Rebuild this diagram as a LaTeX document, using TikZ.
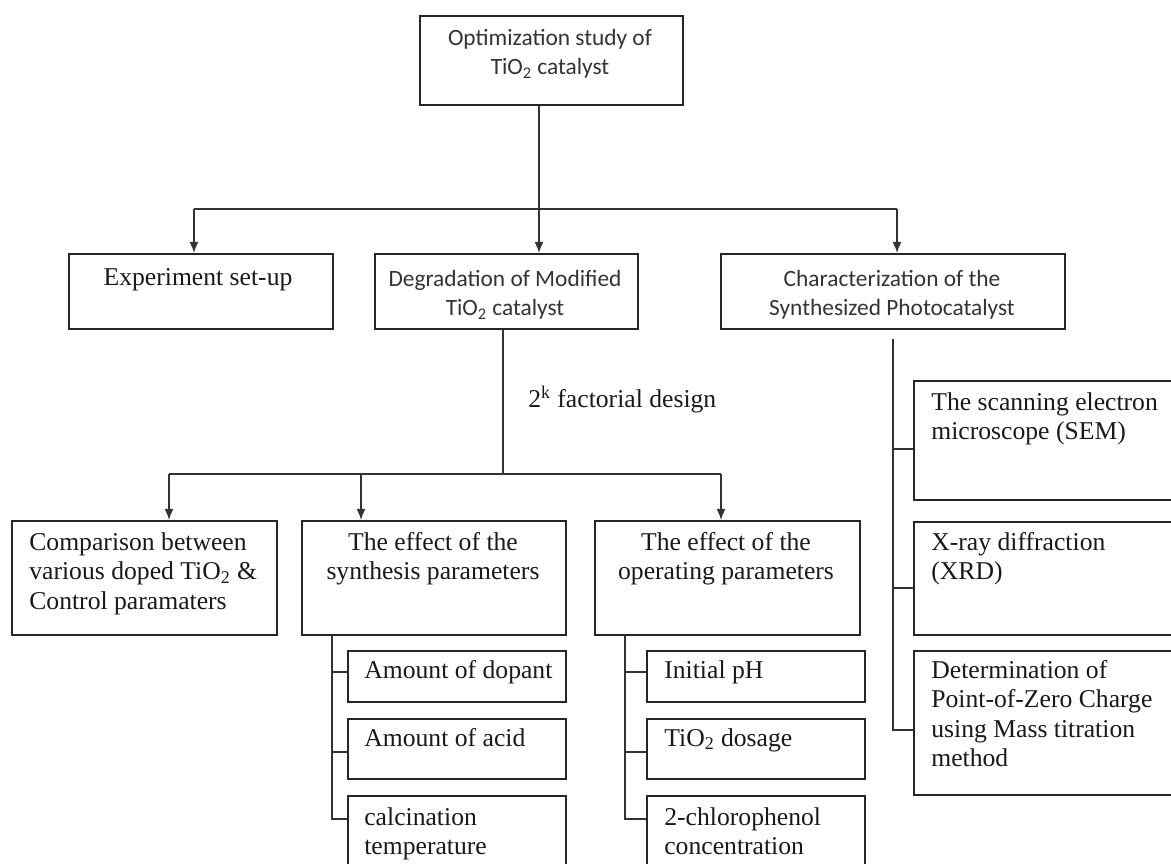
\documentclass[tikz,border=0pt]{standalone}
\usepackage{fontspec}
\setmainfont{Liberation Serif}
\newfontfamily\sanscal{Carlito}
\usepackage{tikz}
\usetikzlibrary{arrows.meta,calc}

\begin{document}
\begin{tikzpicture}[
  x=0.02cm, y=-0.02cm,
  >=Latex,
  panel/.style={draw=black!85, line width=1pt, anchor=north west, inner sep=0pt},
  sized/.style 2 args={minimum width=#1*0.02cm, minimum height=#2*0.02cm},
  serif/.style={font=\fontsize{14.6}{16.8}\selectfont, text=black!90, inner sep=0pt},
  sans/.style={font=\sanscal\fontsize{13.3}{16.5}\selectfont, text=black!80, inner sep=0pt, align=center, anchor=north},
  link/.style={draw=black!80, line width=.9pt},
  feed/.style={link, -{Latex[length=2.2mm, width=1.8mm]}}
]
  \useasboundingbox (0,0) rectangle (1171,864);
  \clip (0,0) rectangle (1171,864);

  % Boxes of the three levels and the two lists below them.
  \node[panel, sized={263}{89}] (top) at (419,15) {};
  \node[panel, sized={264}{75}] (exp) at (68,253) {};
  \node[panel, sized={263}{75}] (deg) at (374,253) {};
  \node[panel, sized={344}{75}] (chr) at (720,253) {};
  \node[panel, sized={265}{114}] (cmp) at (11,520) {};
  \node[panel, sized={264}{114}] (syn) at (301,520) {};
  \node[panel, sized={265}{114}] (opr) at (594,520) {};
  \node[panel, sized={218}{51}] (dop) at (347,650) {};
  \node[panel, sized={218}{60}] (acd) at (347,718) {};
  \node[panel, sized={218}{90}] (cal) at (347,795) {};
  \node[panel, sized={218}{51}] (iph) at (646,650) {};
  \node[panel, sized={218}{60}] (dos) at (646,718) {};
  \node[panel, sized={218}{90}] (chl) at (646,795) {};
  \node[panel, sized={270}{119}] (sem) at (913,380) {};
  \node[panel, sized={270}{113}] (xrd) at (913,521) {};
  \node[panel, sized={270}{144}] (pzc) at (913,650) {};

  \node[sans] (topt) at (550,29) {Optimization study of\\TiO\textsubscript{2} catalyst};
  \node[serif, anchor=north] (expt) at (198,268) {Experiment set-up};
  \node[sans] (degt) at (505,270) {Degradation of Modified\\TiO\textsubscript{2} catalyst};
  \node[sans] (chrt) at (892,270) {Characterization of the\\Synthesized Photocatalyst};
  \node[serif, anchor=base west] (fact) at (528,408) {2\textsuperscript{k} factorial design};
  \node[serif, anchor=north west, align=left] (cmpt) at (29,532)
    {Comparison between\\various doped TiO\textsubscript{2} \&\\Control paramaters};
  \node[serif, anchor=north, align=center] (synt) at (433,532) {The effect of the\\synthesis parameters};
  \node[serif, anchor=north, align=center] (oprt) at (726,532) {The effect of the\\operating parameters};
  \node[serif, anchor=north west] (dopt) at (364,660) {Amount of dopant};
  \node[serif, anchor=north west] (acdt) at (364,728) {Amount of acid};
  \node[serif, anchor=north west, align=left] (calt) at (364,807) {calcination\\temperature};
  \node[serif, anchor=north west] (ipht) at (664,660) {Initial pH};
  \node[serif, anchor=north west] (dost) at (664,728) {TiO\textsubscript{2} dosage};
  \node[serif, anchor=north west, align=left] (chlt) at (664,807) {2-chlorophenol\\concentration};
  \node[serif, anchor=north west, align=left] (semt) at (931,392) {The scanning electron\\microscope (SEM)};
  \node[serif, anchor=north west, align=left] (xrdt) at (931,532) {X-ray diffraction\\(XRD)};
  \node[serif, anchor=north west, align=left] (pzct) at (931,660)
    {Determination of\\Point-of-Zero Charge\\using Mass titration\\method};

  % First split
  \coordinate (busL) at (194,209);
  \coordinate (busM) at (539,209);
  \coordinate (busR) at (897,209);
  \draw[link] (busL) -- (busR);
  \draw[feed] (top.south -| busM) -- (busM |- deg.north);
  \draw[feed] (busL) -- (busL |- exp.north);
  \draw[feed] (busR) -- (busR |- chr.north);

  % 2^k split
  \coordinate (facL) at (169,474);
  \coordinate (facM) at (503,474);
  \coordinate (facS) at (361,474);
  \coordinate (facR) at (721,474);
  \draw[link] (deg.south -| facM) -- (facM);
  \draw[link] (facL) -- (facR);
  \draw[feed] (facL) -- (facL |- cmp.north);
  \draw[feed] (facS) -- (facS |- syn.north);
  \draw[feed] (facR) -- (facR |- opr.north);

  % Side lists
  \coordinate (synB) at (332,634);
  \draw[link] (synB) |- ($(dop.north west)+(0,22)$);
  \draw[link] (synB) |- ($(acd.north west)+(0,34)$);
  \draw[link] (synB) |- ($(cal.north west)+(0,24)$);
  \coordinate (oprB) at (625,634);
  \draw[link] (oprB) |- ($(iph.north west)+(0,22)$);
  \draw[link] (oprB) |- ($(dos.north west)+(0,34)$);
  \draw[link] (oprB) |- ($(chl.north west)+(0,24)$);
  \coordinate (chrB) at (893,339);
  \draw[link] (chrB) |- ($(sem.north west)+(0,69)$);
  \draw[link] (chrB) |- ($(xrd.north west)+(0,67)$);
  \draw[link] (chrB) |- ($(pzc.north west)+(0,80)$);
\end{tikzpicture}
\end{document}
